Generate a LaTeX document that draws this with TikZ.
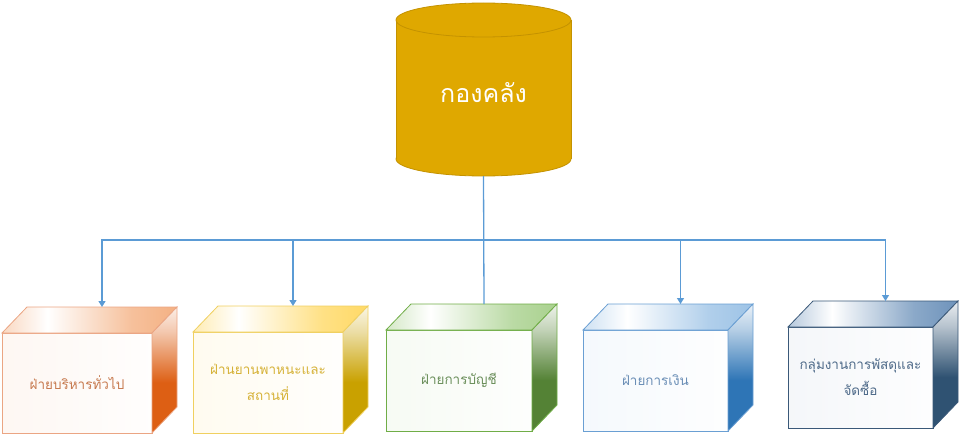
\documentclass[tikz,border=0pt]{standalone}
\usepackage{fontspec}
\newfontfamily\thaifont[Script=Thai]{Loma}
\usetikzlibrary{arrows.meta}
\definecolor{connblue}{HTML}{5B9BD5}
\definecolor{cylfill}{HTML}{DFA800}
\definecolor{cylline}{HTML}{C49200}
\pgfdeclarehorizontalshading[cTop]{topshade}{100bp}{color(0bp)=(cTop!50); color(25bp)=(cTop!50); color(38bp)=(white); color(62bp)=(cTop!80); color(75bp)=(cTop); color(100bp)=(cTop)}
\pgfdeclareverticalshading[cS]{sideshade}{100bp}{color(0bp)=(cS); color(25bp)=(cS); color(45bp)=(cS); color(65bp)=(cS!35); color(75bp)=(cS!10); color(100bp)=(cS!10)}
\newcommand{\cubebox}[6]{%
  \node[frontface, minimum width=#4, minimum height=#5, anchor=north west] (#1) at (#2,#3) {#6};
  \path[topface] (#1.north west) -- ++(25,-26) -- ++(#4,0) -- (#1.north east) -- cycle;
  \path[sideface] (#1.north east) -- ++(25,-26) -- ++(0,#5) -- (#1.south east) -- cycle;
  \path (#1.north) ++(25,-26) coordinate (#1top);
}
\newcommand{\setboxcolors}[5]{%
  \definecolor{cS}{HTML}{#1}\definecolor{cTop}{HTML}{#2}%
  \definecolor{cB}{HTML}{#3}\definecolor{cT}{HTML}{#4}\definecolor{cF}{HTML}{#5}}
\begin{document}
\begin{tikzpicture}[x=1pt,y=-1pt,
  conn/.style={draw=connblue, line width=1.3pt},
  arr/.style={conn, -{Triangle[width=7pt,length=6pt]}},
  frontface/.style={draw=cB, line width=0.8pt, outer sep=0pt, inner sep=2pt,
     left color=cF!30, right color=cF!5, text=cT, align=center,
     font=\thaifont\fontsize{13.5}{26}\selectfont},
  topface/.style={draw=cB, line width=0.8pt, shading=topshade},
  sideface/.style={draw=cB, line width=0.8pt, shading=sideshade},
  cylstyle/.style={fill=cylfill, draw=cylline, line width=0.8pt},
  cyltext/.style={text=white, font=\thaifont\fontsize{25}{30}\selectfont}
]
\useasboundingbox (0,0) rectangle (960,436);
% cylinder
\path[cylstyle] (483.5,159) ellipse [x radius=87.5, y radius=17];
\fill[cylfill] (396,20) rectangle (571,159);
\draw[cylline, line width=0.8pt] (396,20) -- (396,159) (571,20) -- (571,159);
\path[cylstyle] (483.5,20) ellipse [x radius=87.5, y radius=17];
\node[cyltext] (cyl) at (483.5,93) {กองคลัง};
\coordinate (cylb) at (483.5,176);
\coordinate (bus) at (483.5,240);
% boxes
\setboxcolors{DD5F14}{F4B183}{EBA583}{C77A4F}{FBE5D6}
\cubebox{b1}{2}{333}{150}{100}{ฝ่ายบริหารทั่วไป}
\setboxcolors{C9A100}{FFD966}{F0D060}{D6B238}{FFF2CC}
\cubebox{b2}{193}{332}{150}{101}{ฝ่านยานพาหนะและ\\สถานที่}
\setboxcolors{548235}{A9D18E}{70AD47}{6B8F5B}{E2F0D9}
\cubebox{b3}{386}{330}{146}{101}{ฝ่ายการบัญชี}
\setboxcolors{2E75B6}{9DC3E6}{6A9FD3}{6A8EB6}{DEEBF7}
\cubebox{b4}{583}{330}{145}{101}{ฝ่ายการเงิน}
\setboxcolors{2F5272}{6E93BB}{3A5878}{4E6A89}{DCE3EC}
\cubebox{b5}{788}{327}{145}{101}{กลุ่มงานการพัสดุและ\\จัดซื้อ}
% connectors
\draw[conn] (cylb) -- (b3top);
\draw[arr] (bus) -| (b1top);
\draw[arr] (bus) -| (b2top);
\draw[arr] (bus) -| (b4top);
\draw[arr] (bus) -| (b5top);
\end{tikzpicture}
\end{document}
